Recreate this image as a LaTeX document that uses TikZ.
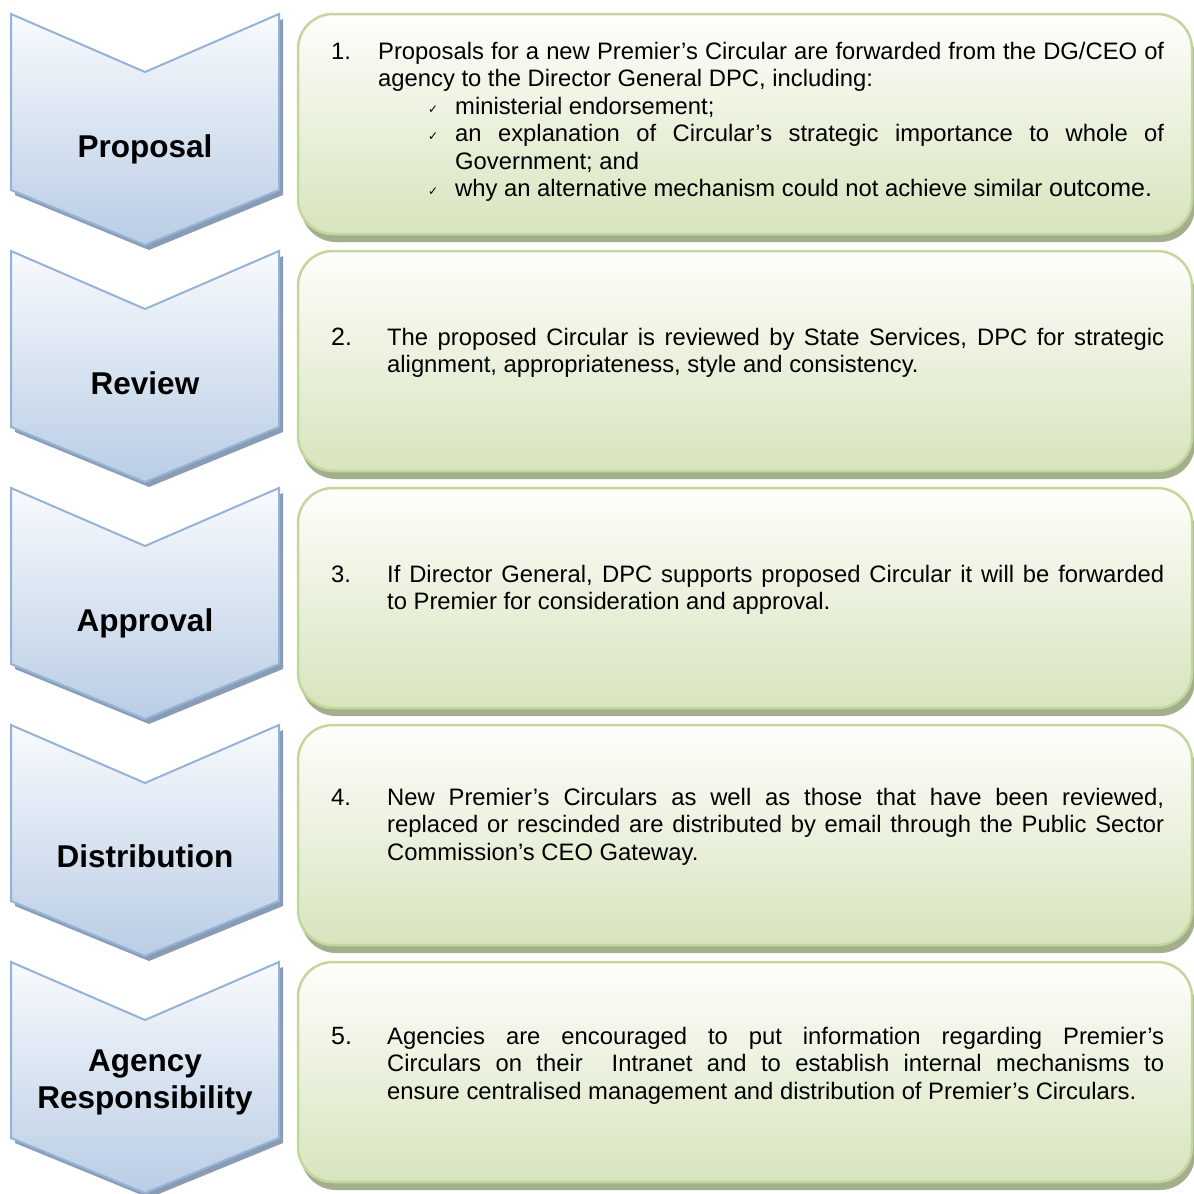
\documentclass[tikz,border=0pt]{standalone}
\usepackage{fontspec}
\setmainfont{Liberation Sans}
\newfontfamily\checkfont{DejaVu Sans}
\definecolor{chevtop}{HTML}{F8FAFD}
\definecolor{chevbot}{HTML}{B9CDE5}
\definecolor{chevline}{HTML}{95B3D7}
\definecolor{chevshadow}{HTML}{8A9CB4}
\definecolor{boxtop}{HTML}{FEFEFC}
\definecolor{boxbot}{HTML}{D7E4BD}
\definecolor{boxline}{HTML}{C3D69B}
\definecolor{boxshadow}{HTML}{A3AE8C}
\tikzset{
 chev/.style={draw=chevline, line width=2pt, top color=chevtop, bottom color=chevbot, line join=miter},
 chevsh/.style={fill=chevshadow},
 panel/.style={draw=boxline, line width=2.5pt, top color=boxtop, bottom color=boxbot, rounded corners=35pt},
 panelsh/.style={fill=boxshadow, rounded corners=35pt},
 title/.style={font=\fontsize{31.5}{37}\selectfont\bfseries, inner sep=0pt, anchor=base},
 body/.style={font=\fontsize{23.8}{27.5}\selectfont, inner sep=0pt, anchor=base west},
}
\newcommand{\tick}{\noindent\llap{\makebox[27pt][l]{\raisebox{1pt}{\checkfont\fontsize{12}{12}\selectfont ✓}}}}
\newcommand{\numb}[2]{\hangindent=#1\hangafter=1\noindent\makebox[#1][l]{#2}}
\begin{document}
\begin{tikzpicture}[x=1pt,y=-1pt]
\useasboundingbox (0,0) rectangle (1194,1194);
\fill[white] (0,0) rectangle (1194,1194);
\foreach \k in {0,1,2,3,4} {
  \pgfmathsetmacro\dy{237*\k}
  \fill[chevsh] (15,{19+\dy}) -- (149,{77+\dy}) -- (283,{19+\dy}) -- (283,{195+\dy}) -- (149,{250+\dy}) -- (15,{195+\dy}) -- cycle;
  \path[chev] (11,{14+\dy}) -- (145,{72+\dy}) -- (279,{14+\dy}) -- (279,{190+\dy}) -- (145,{245+\dy}) -- (11,{190+\dy}) -- cycle;
  \fill[panelsh] (301,{22+\dy}) rectangle (1195,{242+\dy});
  \path[panel] (298,{14+\dy}) rectangle (1192,{234+\dy});
}
\node[title] (t1) at (145,157) {Proposal};
\node[title] (t2) at (145,394) {Review};
\node[title] (t3) at (145,631) {Approval};
\node[title] (t4) at (145,867) {Distribution};
\node[title] (t5) at (145,1071) {\parbox[t]{270pt}{\centering Agency\\Responsibility}};
\node[body] (b1) at (331,59) {\parbox[t]{833pt}{\hyphenpenalty=10000\tolerance=9999
\numb{47pt}{1.}Proposals for a new Premier’s Circular are forwarded from the DG/CEO of\linebreak agency to the Director General DPC, including:\par
\leftskip=124pt
\tick ministerial endorsement;\par
\tick an explanation of Circular’s strategic importance to whole of\linebreak Government; and\par
\tick why an alternative mechanism could not achieve similar {\fontsize{25}{27.5}\selectfont outcome.}\par}};
\node[body] (b2) at (331,345) {\parbox[t]{833pt}{\hyphenpenalty=10000\tolerance=9999
\numb{56pt}{\fontsize{25}{27.5}\selectfont 2.}The proposed Circular is reviewed by State Services, DPC for strategic\linebreak alignment, appropriateness, style and consistency.\par}};
\node[body] (b3) at (331,582) {\parbox[t]{833pt}{\hyphenpenalty=10000\tolerance=9999
\numb{56pt}{3.}If Director General, DPC supports proposed Circular it will be forwarded\linebreak to Premier for consideration and approval.\par}};
\node[body] (b4) at (331,805) {\parbox[t]{833pt}{\hyphenpenalty=10000\tolerance=9999
\numb{56pt}{4.}New Premier’s Circulars as well as those that have been reviewed,\linebreak replaced or rescinded are distributed by email through the Public Sector\linebreak Commission’s CEO Gateway.\par}};
\node[body] (b5) at (331,1044) {\parbox[t]{833pt}{\hyphenpenalty=10000\tolerance=9999
\numb{56pt}{\fontsize{25}{27.5}\selectfont 5.}Agencies are encouraged to put information regarding Premier’s\linebreak Circulars on their\ \ Intranet and to establish internal mechanisms to\linebreak ensure centralised management and distribution of Premier’s Circulars.\par}};
\end{tikzpicture}
\end{document}
